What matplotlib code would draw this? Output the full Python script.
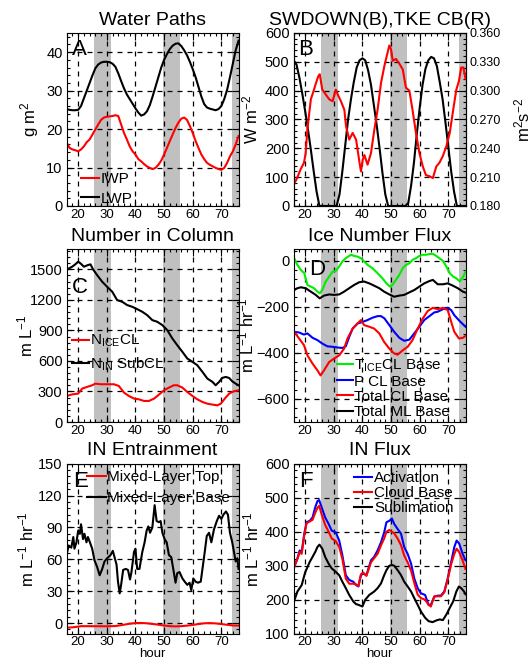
import numpy as np
import matplotlib
matplotlib.use('Agg')
import matplotlib.pyplot as plt
from matplotlib.ticker import MultipleLocator, AutoMinorLocator, FormatStrFormatter

plt.rcParams['font.family'] = ['Liberation Sans', 'DejaVu Sans']
plt.rcParams['mathtext.default'] = 'regular'

# shaded periods (hours)
night_bands = [(25.4, 31.4), (49.5, 55.5), (73.6, 76.0)]

hours = np.arange(16, 77)

# A: water paths, g m^2
iwp = [16.4, 15.1, 14.7, 14.5, 14.2, 14.7, 15.5, 16.6, 17.3, 18.6, 19.9, 21.2, 22.4, 23.0, 23.2, 23.3,
       23.4, 23.6, 23.4, 21.2, 19.0, 17.3, 15.5, 14.2, 13.4, 12.2, 11.6, 10.9, 10.3, 9.9, 9.6, 9.9,
       10.7, 11.8, 13.4, 15.1, 16.9, 18.6, 20.3, 21.7, 22.7, 23.0, 22.4, 20.8, 19.0, 16.9, 15.1, 13.4,
       12.2, 11.2, 10.7, 10.3, 9.9, 9.6, 9.4, 9.9, 11.2, 12.9, 14.2, 16.0, 18.2]
lwp = [25.2, 25.0, 24.9, 24.9, 25.0, 26.0, 28.0, 30.0, 32.0, 34.0, 35.8, 36.8, 37.3, 37.5, 37.5, 37.4,
       37.0, 36.2, 34.5, 32.5, 30.6, 29.0, 27.8, 26.6, 25.4, 24.3, 23.5, 23.8, 24.6, 26.2, 28.5, 31.0,
       33.5, 36.0, 38.0, 39.5, 40.8, 41.7, 42.2, 42.3, 41.6, 40.5, 39.2, 37.5, 35.6, 33.5, 31.0, 28.5,
       26.5, 25.6, 25.3, 25.1, 24.9, 25.2, 26.0, 27.8, 30.2, 33.5, 37.0, 40.5, 43.0]

# B: shortwave down (W m-2) and cloud-base TKE (m2 s-2)
swdown = [505, 490, 445, 390, 330, 265, 195, 120, 50, 0, 0, 0, 0, 0, 0, 0, 40, 120, 210, 300, 370,
          430, 480, 505, 512, 505, 470, 420, 350, 280, 200, 115, 40, 0, 0, 0, 0, 0, 0, 0, 10, 70,
          150, 250, 340, 420, 475, 505, 517, 512, 485, 430, 370, 290, 205, 120, 50, 0, 0, 0, 0]
tke_hr = [16.0, 17.2, 18.4, 19.6, 20.2, 20.8, 22.0, 23.1, 23.7, 24.6, 25.1, 26.0, 27.2, 28.4, 29.6,
          30.7, 31.7, 32.5, 33.7, 34.3, 35.4, 36.6, 37.8, 39.0, 39.5, 40.1, 40.7, 41.8, 43.0, 44.2,
          45.3, 46.5, 47.7, 48.5, 49.4, 50.0, 50.6, 51.7, 52.9, 54.1, 55.2, 56.4, 57.5, 58.7, 59.9,
          61.1, 62.2, 63.4, 64.6, 65.8, 66.9, 68.1, 69.3, 70.5, 71.7, 72.8, 73.7, 74.5, 75.3, 76.0]
tke = [0.202, 0.209, 0.218, 0.225, 0.235, 0.260, 0.291, 0.301, 0.307, 0.315, 0.317, 0.301, 0.296,
       0.291, 0.289, 0.301, 0.294, 0.289, 0.280, 0.263, 0.249, 0.256, 0.249, 0.225, 0.216, 0.228,
       0.233, 0.223, 0.235, 0.260, 0.280, 0.308, 0.326, 0.336, 0.347, 0.343, 0.331, 0.333, 0.328,
       0.322, 0.303, 0.300, 0.280, 0.256, 0.235, 0.221, 0.212, 0.211, 0.209, 0.221, 0.225, 0.232,
       0.242, 0.256, 0.280, 0.301, 0.310, 0.324, 0.324, 0.312]

# C: number in column (m L-1)
in_hr = [16.2, 17.9, 19.0, 20.0, 20.8, 22.0, 23.4, 24.3, 25.2, 26.6, 28.4, 30.1, 31.9, 33.6, 35.4,
         37.1, 38.9, 40.6, 42.4, 44.1, 45.9, 47.6, 49.4, 51.1, 52.9, 54.6, 56.4, 58.1, 59.9, 61.6,
         63.4, 65.1, 66.9, 68.0, 69.2, 70.3, 71.5, 72.7, 73.8, 75.0, 76.0]
n_in = [1500, 1526, 1549, 1575, 1559, 1526, 1542, 1549, 1500, 1444, 1378, 1329, 1280, 1198, 1181,
        1149, 1132, 1109, 1083, 1050, 1001, 985, 952, 903, 820, 755, 689, 624, 591, 558, 492, 427,
        394, 361, 394, 433, 443, 433, 400, 377, 361]
ice_hr = [16.0, 18.0, 20.0, 21.4, 23.1, 24.9, 26.0, 27.8, 30.1, 32.5, 34.2, 36.0, 37.7, 39.5, 41.2,
          43.0, 44.7, 46.5, 48.2, 50.0, 51.7, 53.4, 54.6, 56.4, 58.1, 59.9, 61.6, 63.4, 65.1, 66.9,
          68.6, 69.8, 71.2, 72.7, 74.4, 76.0]
n_ice = [256, 272, 279, 328, 345, 361, 377, 371, 371, 371, 354, 289, 256, 230, 223, 207, 207, 230,
         269, 312, 338, 361, 361, 338, 295, 256, 223, 197, 180, 171, 164, 180, 230, 279, 302, 312]

# D: ice number flux (m L-1 hr-1)
tice_hr = [16.2, 17.3, 18.5, 19.7, 20.8, 22.0, 23.1, 24.3, 25.1, 26.0, 27.2, 28.4, 29.6, 30.7, 31.9,
           33.0, 34.2, 36.0, 37.1, 38.3, 39.5, 40.6, 41.8, 43.5, 45.3, 47.0, 48.4, 49.6, 50.5, 51.7,
           52.9, 54.1, 55.2, 56.4, 57.5, 58.7, 59.9, 61.1, 62.2, 63.4, 64.6, 65.8, 66.9, 68.1, 69.3,
           70.5, 71.7, 72.8, 74.0, 75.2, 76.0]
t_ice = [10, -19, -41, -55, -106, -113, -120, -135, -142, -128, -91, -70, -48, -45, -26, -4, 10, 25,
         20, 17, 10, -4, -19, -33, -55, -77, -99, -113, -106, -84, -62, -33, -19, -12, 3, 10, 20, 25,
         25, 28, 29, 20, 10, -1, -26, -55, -70, -77, -91, -70, -48]
pcl_hr = [16.2, 17.9, 19.6, 20.8, 22.6, 24.3, 26.0, 27.8, 29.6, 31.3, 33.0, 34.2, 35.4, 36.6, 38.3,
          40.1, 41.8, 43.5, 45.3, 46.5, 47.7, 49.4, 51.1, 52.9, 54.6, 56.4, 58.1, 59.9, 61.6, 63.4,
          65.1, 66.3, 68.1, 69.8, 71.0, 72.1, 74.0, 76.0]
p_cl = [-309, -312, -321, -316, -335, -345, -360, -372, -374, -377, -379, -372, -331, -295, -273,
        -266, -258, -248, -241, -241, -251, -280, -309, -335, -348, -343, -316, -287, -258, -241,
        -225, -222, -211, -205, -215, -237, -263, -287]
tcl_hr = [16.2, 17.9, 19.6, 20.8, 22.6, 24.3, 25.4, 26.6, 28.4, 30.1, 31.9, 33.6, 34.8, 36.6, 38.3,
          39.5, 40.6, 42.4, 44.1, 45.9, 47.6, 49.4, 51.1, 52.3, 54.1, 55.8, 57.5, 59.3, 61.1, 62.8,
          64.6, 66.3, 68.1, 69.8, 71.0, 72.1, 73.7, 75.1, 76.0]
total_cl = [-309, -338, -367, -411, -447, -476, -498, -476, -440, -425, -411, -382, -338, -295, -273,
            -258, -280, -287, -295, -316, -353, -382, -403, -408, -389, -374, -345, -295, -251, -219,
            -205, -211, -205, -215, -266, -309, -338, -335, -327]
tml_hr = [16.2, 17.3, 18.5, 20.2, 22.0, 23.7, 25.1, 26.6, 28.4, 30.1, 31.9, 33.6, 35.4, 37.1, 38.9,
          40.6, 42.4, 44.1, 45.9, 47.6, 49.4, 51.1, 52.9, 54.6, 56.4, 58.1, 59.9, 61.6, 63.4, 64.6,
          66.3, 68.1, 69.8, 71.6, 73.3, 75.1, 76.0]
total_ml = [-128, -120, -116, -120, -135, -149, -164, -152, -147, -149, -147, -135, -120, -106, -94,
            -91, -99, -109, -120, -135, -147, -157, -152, -149, -138, -128, -113, -99, -89, -84,
            -103, -103, -99, -109, -120, -135, -139]

# E: IN entrainment (m L-1 hr-1)
top_hr = [16, 18, 20, 21, 24, 28, 30, 33, 36, 38, 40, 42, 44, 46, 48, 50, 52, 54, 56, 58, 60, 62,
          64, 66, 68, 70, 72, 74, 76]
ml_top = [-4.3, -4.0, -3.3, -2.9, -2.9, -3.0, -3.0, -2.8, -1.5, -0.6, 0.0, 0.1, -0.2, -0.8, -1.5,
          -2.3, -2.9, -3.1, -2.9, -2.4, -1.7, -0.9, -0.2, 0.0, -0.3, -0.9, -1.6, -2.2, -2.4]
base_hr = [16.0, 16.7, 17.6, 18.3, 18.7, 19.4, 20.0, 20.6, 21.0, 21.7, 22.2, 22.9, 23.4, 24.1, 24.9,
           25.7, 26.6, 27.5, 28.4, 29.2, 30.1, 31.3, 32.1, 32.7, 33.4, 33.9, 34.5, 35.0, 35.7, 36.6,
           37.4, 38.1, 38.6, 39.5, 40.0, 40.6, 41.4, 42.4, 43.2, 43.9, 44.5, 45.1, 45.9, 46.7, 47.4,
           48.2, 48.8, 49.4, 50.2, 50.9, 51.7, 52.5, 53.2, 54.0, 54.6, 55.4, 56.4, 57.2, 58.1, 58.9,
           59.5, 60.2, 61.0, 61.8, 62.8, 63.4, 64.2, 64.9, 65.7, 66.5, 67.4, 68.4, 69.2, 70.0, 70.7,
           71.6, 72.3, 73.0, 73.8, 74.4, 75.0, 75.6, 76.0]
ml_base = [65, 73, 71, 81, 70, 76, 87, 84, 93, 79, 84, 76, 81, 76, 70, 59, 53, 45, 51, 58, 61, 64,
           68, 62, 55, 39, 28, 36, 50, 51, 50, 41, 48, 67, 70, 51, 51, 67, 76, 87, 91, 85, 90, 111,
           96, 95, 96, 85, 79, 76, 64, 62, 51, 38, 47, 48, 42, 39, 36, 38, 31, 42, 39, 38, 39, 51,
           67, 82, 85, 76, 88, 96, 101, 98, 102, 105, 102, 85, 76, 67, 58, 61, 51]

# F: IN flux (m L-1 hr-1)
flux_hr = [16.2, 17.3, 18.1, 18.8, 19.7, 20.5, 21.6, 22.6, 23.5, 24.3, 24.9, 25.8, 27.0, 28.2, 29.3,
           30.7, 31.9, 33.0, 34.2, 35.4, 36.8, 37.8, 38.6, 39.5, 40.3, 41.4, 43.0, 44.1, 45.3, 46.5,
           47.6, 48.4, 49.4, 50.3, 51.1, 52.3, 53.5, 54.6, 55.8, 57.0, 58.1, 59.3, 60.4, 61.9, 63.1,
           63.9, 65.1, 66.3, 67.4, 68.6, 69.8, 71.0, 72.1, 72.9, 73.8, 75.0, 76.0]
activation = [297, 321, 345, 340, 394, 428, 432, 442, 471, 490, 493, 471, 442, 423, 403, 398, 374,
              331, 272, 258, 253, 243, 239, 272, 277, 272, 316, 326, 345, 369, 398, 428, 432, 439,
              423, 408, 394, 355, 335, 306, 263, 234, 219, 214, 185, 185, 209, 212, 212, 224, 263,
              311, 355, 374, 365, 335, 316]
cloud_base = [297, 320, 340, 335, 390, 425, 430, 435, 455, 470, 476, 450, 420, 400, 380, 372, 355,
              320, 262, 247, 247, 245, 240, 275, 280, 270, 310, 322, 335, 360, 380, 400, 405, 400,
              395, 380, 360, 330, 310, 285, 250, 215, 205, 200, 185, 180, 210, 210, 210, 222, 260,
              305, 335, 350, 340, 315, 290]
sub_hr = [16.2, 17.3, 18.8, 20.0, 21.6, 22.6, 23.5, 24.3, 25.0, 26.0, 27.0, 28.2, 29.3, 30.7, 31.9,
          33.0, 34.2, 35.4, 36.8, 37.8, 38.6, 40.0, 41.0, 42.4, 44.1, 45.3, 46.5, 47.6, 48.4, 49.4,
          50.3, 51.1, 52.3, 53.5, 54.6, 55.8, 57.0, 58.1, 59.3, 60.4, 61.9, 63.1, 64.5, 65.8, 67.0,
          68.1, 69.3, 70.5, 71.7, 72.8, 73.7, 74.5, 75.5, 76.0]
sublimation = [197, 224, 243, 280, 311, 326, 340, 355, 362, 350, 326, 306, 292, 282, 272, 253, 234,
               214, 195, 187, 185, 180, 200, 214, 224, 234, 248, 272, 287, 300, 302, 300, 287, 272,
               253, 239, 224, 205, 185, 166, 147, 137, 134, 139, 142, 140, 156, 176, 195, 224, 239,
               234, 224, 216]


def style(ax, ylim, ystep, title, letter, letter_xy):
    ax.set_xlim(16, 76)
    ax.set_ylim(*ylim)
    ax.xaxis.set_major_locator(MultipleLocator(10))
    ax.yaxis.set_major_locator(MultipleLocator(ystep))
    ax.xaxis.set_minor_locator(AutoMinorLocator(5))
    ax.yaxis.set_minor_locator(AutoMinorLocator(5))
    ax.tick_params(which='both', direction='in', top=True, right=True)
    ax.tick_params(axis='x', labelsize=9.5, pad=2)
    ax.tick_params(axis='y', labelsize=10.5, pad=3)
    ax.tick_params(which='major', length=5, width=0.8)
    ax.tick_params(which='minor', length=2.5, width=0.8)
    ax.grid(True, which='major', color='black', linestyle=(0, (4, 4)), linewidth=0.9)
    ax.set_axisbelow(True)
    for a, b in night_bands:
        ax.axvspan(a, b, color='#c0c0c0', lw=0, zorder=0.2)
    ax.set_title(title, fontsize=14, pad=6)
    ax.text(letter_xy[0], letter_xy[1], letter, transform=ax.transAxes, fontsize=16,
            ha='left', va='baseline', zorder=6)


def leg(ax, x, y, spacing, hl=1.2):
    ax.legend(loc='upper left', bbox_to_anchor=(x, y), frameon=False, fontsize=11,
              handlelength=hl, handletextpad=0.1, labelspacing=spacing,
              borderpad=0, borderaxespad=0)


fig = plt.figure(figsize=(5.32, 6.67), dpi=100)
w, h = 0.3230, 0.2594
lx, rx = 0.1254, 0.5520
rows = [0.6912, 0.3673, 0.0499]
h3 = h - 0.0045

axA = fig.add_axes([lx, rows[0], w, h])
axB = fig.add_axes([rx, rows[0], w, h])
axC = fig.add_axes([lx, rows[1], w, h])
axD = fig.add_axes([rx, rows[1], w, h])
axE = fig.add_axes([lx, rows[2], w, h3])
axF = fig.add_axes([rx, rows[2], w, h3])

lw = 1.5
lab = 12

# A
style(axA, (0, 45), 10, 'Water Paths', 'A', (0.028, 0.873))
axA.plot(hours, iwp, color='red', lw=lw, label='IWP')
axA.plot(hours, lwp, color='black', lw=lw, label='LWP')
axA.set_ylabel('g m$^{2}$', fontsize=lab)
axA.yaxis.set_label_coords(-0.147, 0.5)
leg(axA, 0.083, 0.197, 0.38)

# B
style(axB, (0, 600), 100, 'SWDOWN(B),TKE CB(R)', 'B', (0.027, 0.870))
axB.tick_params(which='both', right=False)
axB.plot(hours, swdown, color='black', lw=lw)
axB.set_ylabel('W m$^{-2}$', fontsize=lab)
axB.yaxis.set_label_coords(-0.194, 0.5)
axB2 = axB.twinx()
axB2.set_ylim(0.18, 0.36)
axB2.yaxis.set_major_locator(MultipleLocator(0.03))
axB2.yaxis.set_minor_locator(AutoMinorLocator(5))
axB2.yaxis.set_major_formatter(FormatStrFormatter('%.3f'))
axB2.tick_params(which='both', direction='in', labelsize=9, pad=3)
axB2.tick_params(which='major', length=5, width=0.8)
axB2.tick_params(which='minor', length=2.5, width=0.8)
axB2.plot(tke_hr, tke, color='red', lw=lw)
axB2.set_ylabel('m$^{2}$s$^{-2}$', fontsize=lab)
axB2.yaxis.set_label_coords(1.272, 0.5)

# C
style(axC, (0, 1700), 300, 'Number in Column', 'C', (0.03, 0.743))
axC.plot(ice_hr, n_ice, color='red', lw=lw, label='N$_{ICE}$CL')
axC.plot(in_hr, n_in, color='black', lw=lw, label='N$_{IN}$ SubCL')
axC.set_ylabel('m L$^{-1}$', fontsize=lab)
axC.yaxis.set_label_coords(-0.184, 0.5)
leg(axC, 0.029, 0.515, 0.4, hl=1.1)

# D
style(axD, (-700, 50), 200, 'Ice Number Flux', 'D', (0.09, 0.851))
axD.plot(tice_hr, t_ice, color='#00ee00', lw=lw, label='T$_{ICE}$CL Base')
axD.plot(pcl_hr, p_cl, color='blue', lw=lw, label='P CL Base')
axD.plot(tcl_hr, total_cl, color='red', lw=lw, label='Total CL Base')
axD.plot(tml_hr, total_ml, color='black', lw=lw, label='Total ML Base')
axD.set_ylabel('m L$^{-1}$ hr$^{-1}$', fontsize=lab)
axD.yaxis.set_label_coords(-0.216, 0.5)
leg(axD, 0.25, 0.374, 0.07, hl=1.05)

# E
style(axE, (-10, 150), 30, 'IN Entrainment', 'E', (0.039, 0.862))
axE.plot(top_hr, ml_top, color='red', lw=lw, label='Mixed-Layer Top')
axE.plot(base_hr, ml_base, color='black', lw=lw, label='Mixed-Layer Base')
axE.set_ylabel('m L$^{-1}$ hr$^{-1}$', fontsize=lab)
axE.yaxis.set_label_coords(-0.175, 0.5)
axE.set_xlabel('hour', fontsize=9.5, labelpad=0)
leg(axE, 0.12, 0.962, 0.45)

# F
style(axF, (100, 600), 100, 'IN Flux', 'F', (0.033, 0.862))
axF.plot(flux_hr, activation, color='blue', lw=lw, label='Activation')
axF.plot(flux_hr, cloud_base, color='red', lw=lw, label='Cloud Base')
axF.plot(sub_hr, sublimation, color='black', lw=lw, label='Sublimation')
axF.set_ylabel('m L$^{-1}$ hr$^{-1}$', fontsize=lab)
axF.yaxis.set_label_coords(-0.187, 0.5)
axF.set_xlabel('hour', fontsize=9.5, labelpad=0)
leg(axF, 0.352, 0.955, 0.06)

fig.savefig('out.png', dpi=100)
